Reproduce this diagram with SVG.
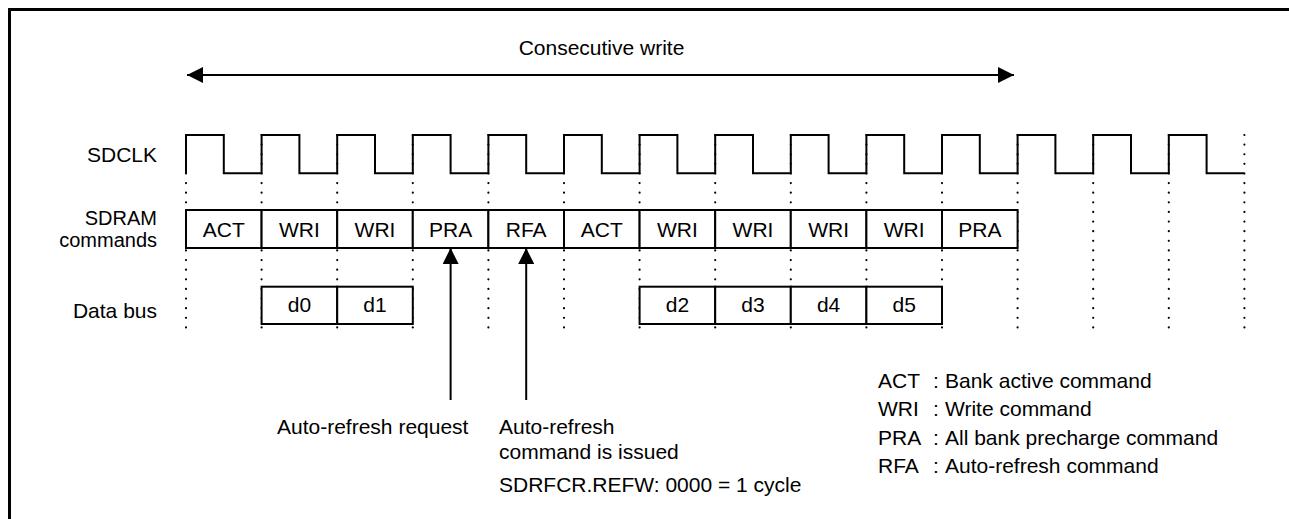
<svg xmlns="http://www.w3.org/2000/svg" width="1289" height="519" viewBox="0 0 1289 519">
<defs>
<style>
text{font-family:"Liberation Sans",Arial,sans-serif;font-size:21px;fill:#000}
.c{text-anchor:middle}
.r{text-anchor:end}
.box{fill:#fff;stroke:#000;stroke-width:2}
.wire{fill:none;stroke:#000;stroke-width:2}
.dot{fill:none;stroke:#000;stroke-width:2.2;stroke-linecap:round;stroke-dasharray:0 9.62}
.frame{fill:none;stroke:#000;stroke-width:3}
</style>
<marker id="ah" viewBox="0 0 16 16" refX="16" refY="8" markerWidth="16" markerHeight="16" markerUnits="userSpaceOnUse" orient="auto-start-reverse">
<path d="M0,0 L16,8 L0,16 Z" fill="#000"/>
</marker>
</defs>
<rect width="1289" height="519" fill="#fff"/>
<g id="frame">
<path class="frame" d="M9.5,519 V9.5 H1289"/>
</g>
<g id="labels">
<text class="r" x="157" y="161.5">SDCLK</text>
<text class="r" x="157" y="225" style="font-size:20px">SDRAM</text>
<text class="r" x="157" y="247" style="font-size:20px">commands</text>
<text class="r" x="157" y="318.3">Data bus</text>
</g>
<g id="gridlines">
<path class="dot" d="M186,135V337M261.6,135V337M337.2,135V337M412.8,135V337M488.4,135V337M564,135V337M639.6,135V337M715.2,135V337M790.8,135V337M866.4,135V337M942,135V337M1017.6,135V337M1093.2,135V337M1168.8,135V337M1244.4,135V337"/>
</g>
<g id="sdclk">
<path class="wire" d="M186,173.3 V135 H223.8 V173.3 H261.6 V135 H299.4 V173.3 H337.2 V135 H375 V173.3 H412.8 V135 H450.6 V173.3 H488.4 V135 H526.2 V173.3 H564 V135 H601.8 V173.3 H639.6 V135 H677.4 V173.3 H715.2 V135 H753 V173.3 H790.8 V135 H828.6 V173.3 H866.4 V135 H904.2 V173.3 H942 V135 H979.8 V173.3 H1017.6 V135 H1055.4 V173.3 H1093.2 V135 H1131 V173.3 H1168.8 V135 H1206.6 V173.3 H1244.4"/>
</g>
<g id="cmd1"><rect class="box" x="186" y="210" width="75.6" height="38"/><text class="c" x="223.8" y="236.5">ACT</text></g>
<g id="cmd2"><rect class="box" x="261.6" y="210" width="75.6" height="38"/><text class="c" x="299.4" y="236.5">WRI</text></g>
<g id="cmd3"><rect class="box" x="337.2" y="210" width="75.6" height="38"/><text class="c" x="375" y="236.5">WRI</text></g>
<g id="cmd4"><rect class="box" x="412.8" y="210" width="75.6" height="38"/><text class="c" x="450.6" y="236.5">PRA</text></g>
<g id="cmd5"><rect class="box" x="488.4" y="210" width="75.6" height="38"/><text class="c" x="526.2" y="236.5">RFA</text></g>
<g id="cmd6"><rect class="box" x="564" y="210" width="75.6" height="38"/><text class="c" x="601.8" y="236.5">ACT</text></g>
<g id="cmd7"><rect class="box" x="639.6" y="210" width="75.6" height="38"/><text class="c" x="677.4" y="236.5">WRI</text></g>
<g id="cmd8"><rect class="box" x="715.2" y="210" width="75.6" height="38"/><text class="c" x="753" y="236.5">WRI</text></g>
<g id="cmd9"><rect class="box" x="790.8" y="210" width="75.6" height="38"/><text class="c" x="828.6" y="236.5">WRI</text></g>
<g id="cmd10"><rect class="box" x="866.4" y="210" width="75.6" height="38"/><text class="c" x="904.2" y="236.5">WRI</text></g>
<g id="cmd11"><rect class="box" x="942" y="210" width="75.6" height="38"/><text class="c" x="979.8" y="236.5">PRA</text></g>
<g id="d0"><rect class="box" x="261.6" y="286.7" width="75.6" height="37.3"/><text class="c" x="299.4" y="311.5">d0</text></g>
<g id="d1"><rect class="box" x="337.2" y="286.7" width="75.6" height="37.3"/><text class="c" x="375" y="311.5">d1</text></g>
<g id="d2"><rect class="box" x="639.6" y="286.7" width="75.6" height="37.3"/><text class="c" x="677.4" y="311.5">d2</text></g>
<g id="d3"><rect class="box" x="715.2" y="286.7" width="75.6" height="37.3"/><text class="c" x="753" y="311.5">d3</text></g>
<g id="d4"><rect class="box" x="790.8" y="286.7" width="75.6" height="37.3"/><text class="c" x="828.6" y="311.5">d4</text></g>
<g id="d5"><rect class="box" x="866.4" y="286.7" width="75.6" height="37.3"/><text class="c" x="904.2" y="311.5">d5</text></g>
<g id="connectors">
<line class="wire" x1="187" y1="75" x2="1014" y2="75" marker-start="url(#ah)" marker-end="url(#ah)"/>
<line class="wire" x1="450.6" y1="400" x2="450.6" y2="248" marker-end="url(#ah)"/>
<line class="wire" x1="526.2" y1="400" x2="526.2" y2="248" marker-end="url(#ah)"/>
</g>
<g id="consecutive-label"><text class="c" x="601.5" y="55">Consecutive write</text></g>
<g id="note-request"><text x="277" y="434">Auto-refresh request</text></g>
<g id="note-issued">
<text x="499" y="434">Auto-refresh</text>
<text x="499" y="459.3">command is issued</text>
<text x="499" y="491.7">SDRFCR.REFW: 0000 = 1 cycle</text>
</g>
<g id="legend">
<text x="878" y="387.5">ACT</text><text x="933" y="387.5">:</text><text x="945" y="387.5">Bank active command</text>
<text x="878" y="416">WRI</text><text x="933" y="416">:</text><text x="945" y="416">Write command</text>
<text x="878" y="444.5">PRA</text><text x="933" y="444.5">:</text><text x="945" y="444.5">All bank precharge command</text>
<text x="878" y="473">RFA</text><text x="933" y="473">:</text><text x="945" y="473">Auto-refresh command</text>
</g>
</svg>
